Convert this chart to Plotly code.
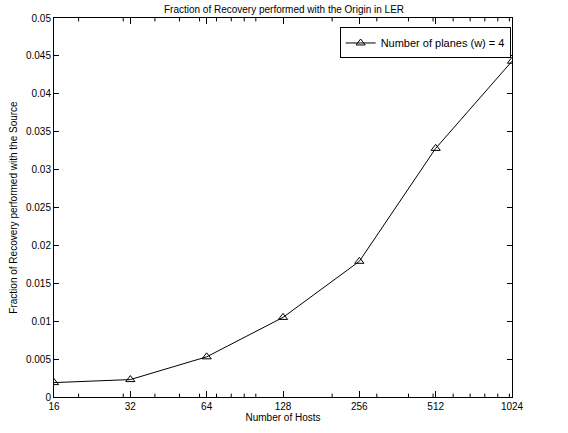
import plotly.graph_objects as go

hosts = [16, 32, 64, 128, 256, 512, 1024]
fraction = [0.0019, 0.0023, 0.0053, 0.0105, 0.0179, 0.0328, 0.0443]
x_ticks = [16, 32, 64, 128, 256, 512, 1024]
y_ticks = [0, 0.005, 0.01, 0.015, 0.02, 0.025, 0.03, 0.035, 0.04, 0.045, 0.05]
y_tick_labels = ["0", "0.005", "0.01", "0.015", "0.02", "0.025", "0.03", "0.035", "0.04", "0.045", "0.05"]
minor_x = [20, 30, 40, 50, 60, 70, 80, 90, 100, 200, 300, 400, 500, 600, 700, 800, 900, 1000]

fig = go.Figure()
fig.add_trace(go.Scatter(
    x=hosts, y=fraction, mode="lines+markers",
    name="Number of planes (w) = 4",
    line=dict(color="black", width=1),
    marker=dict(symbol="triangle-up-open", size=8, color="black", line=dict(width=1)),
))

# minor log ticks (bottom and top, inward)
tick_frac = 0.009
for v in minor_x:
    fig.add_shape(type="line", xref="x", yref="paper", x0=v, x1=v, y0=0, y1=tick_frac,
                  line=dict(color="black", width=1))
    fig.add_shape(type="line", xref="x", yref="paper", x0=v, x1=v, y0=1 - tick_frac, y1=1,
                  line=dict(color="black", width=1))

font = "Liberation Sans, Arial, sans-serif"
xrange = [1.2041, 3.0103]
fig.update_layout(
    width=568, height=433,
    margin=dict(l=54, r=56, t=18, b=29),
    paper_bgcolor="white", plot_bgcolor="white",
    font=dict(family=font, size=10, color="black"),
    title=dict(text="Fraction of Recovery performed with the Origin in LER",
               x=0.5, xanchor="center", y=0.985, yanchor="top",
               font=dict(size=10, family=font, color="black")),
    showlegend=True,
    legend=dict(x=0.997, y=0.975, xanchor="right", yanchor="top",
                bordercolor="black", borderwidth=1, bgcolor="white",
                font=dict(size=11), itemwidth=30, tracegroupgap=0),
    xaxis=dict(type="log", range=xrange,
               tickmode="array", tickvals=x_ticks, ticktext=[str(v) for v in x_ticks],
               ticks="inside", ticklen=6, tickwidth=1, tickcolor="black", mirror="allticks",
               showline=True, linecolor="black", linewidth=1, showgrid=False, zeroline=False,
               title=dict(text="Number of Hosts", standoff=2, font=dict(size=10)),
               tickfont=dict(size=10)),
    yaxis=dict(range=[0, 0.05], tickmode="array", tickvals=y_ticks, ticktext=y_tick_labels,
               ticks="inside", ticklen=5, tickcolor="black", mirror="allticks",
               showline=True, linecolor="black", linewidth=1, showgrid=False, zeroline=False,
               title=dict(text="Fraction of Recovery performed with the Source", standoff=6, font=dict(size=10)),
               tickfont=dict(size=10)),
)
fig.write_html("out.html")
